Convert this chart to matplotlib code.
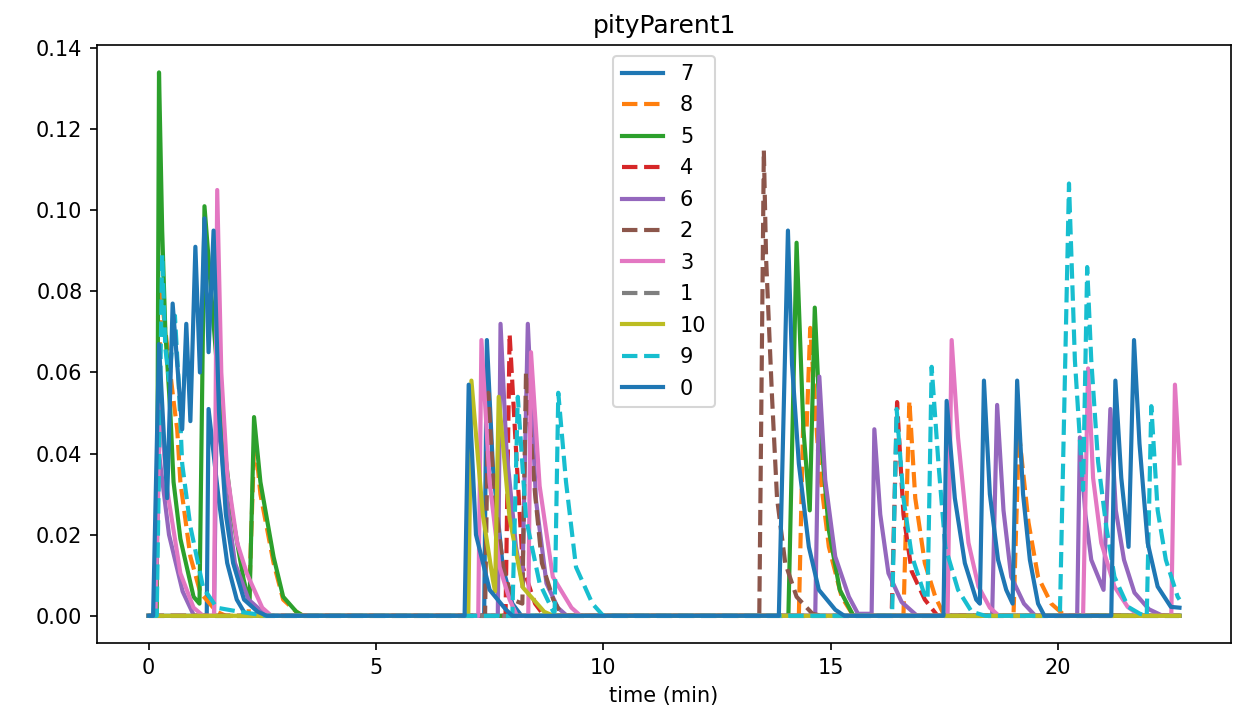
import matplotlib
matplotlib.use('Agg')
from matplotlib import pyplot as plt

# series values: (time in min, value) knots
T_END = 22.67

s7 = [(0, 0), (1.28, 0), (1.32, 0.051), (1.54, 0.029), (1.73, 0.013), (1.94, 0.004), (2.15, 0),
      (7.38, 0), (7.44, 0.068), (7.57, 0.037), (7.79, 0.012), (8.0, 0.003), (8.2, 0), (T_END, 0)]

s8 = [(0, 0), (0.15, 0), (0.27, 0.08), (0.55, 0.053), (0.63, 0.046), (0.70, 0.033), (0.92, 0.0146),
      (1.14, 0.0057), (1.5, 0.001), (1.7, 0),
      (2.2, 0), (2.33, 0.045), (2.46, 0.03), (2.75, 0.013), (2.96, 0.004), (3.25, 0.001), (3.4, 0),
      (14.3, 0), (14.4, 0.05), (14.47, 0.046), (14.55, 0.071), (14.74, 0.0375), (14.96, 0.017),
      (15.24, 0.0047), (15.5, 0),
      (16.6, 0), (16.73, 0.053), (16.86, 0.029), (17.07, 0.013), (17.3, 0.0047), (17.5, 0),
      (19.02, 0), (19.14, 0.045), (19.35, 0.023), (19.56, 0.0096), (19.85, 0.003), (20.15, 0),
      (T_END, 0)]

s5 = [(0, 0), (0.18, 0), (0.23, 0.134), (0.30, 0.095), (0.37, 0.07), (0.48, 0.05), (0.55, 0.033),
      (0.70, 0.019), (0.99, 0.0047), (1.12, 0.003), (1.23, 0.101), (1.5, 0.062), (1.62, 0.046),
      (1.84, 0.025), (2.09, 0.009), (2.22, 0.003), (2.32, 0.049), (2.46, 0.033), (2.75, 0.0145),
      (2.96, 0.0047), (3.25, 0.001), (3.4, 0),
      (14.07, 0), (14.25, 0.092), (14.4, 0.046), (14.54, 0.026), (14.65, 0.076), (14.77, 0.046),
      (14.96, 0.021), (15.2, 0.0064), (15.5, 0), (T_END, 0)]

s4 = [(0, 0), (7.85, 0), (7.94, 0.0695), (8.08, 0.041), (8.23, 0.012), (8.5, 0.003), (8.7, 0),
      (16.34, 0), (16.46, 0.0527), (16.6, 0.025), (16.78, 0.011), (17.07, 0.004), (17.35, 0),
      (T_END, 0)]

s6 = [(0, 0), (0.15, 0), (0.23, 0.04), (0.45, 0.02), (0.75, 0.006), (1.0, 0),
      (1.44, 0), (1.5, 0.052), (1.7, 0.03), (1.9, 0.013), (2.2, 0.004), (2.5, 0.001), (2.7, 0),
      (7.68, 0), (7.74, 0.072), (7.87, 0.041), (8.08, 0.017), (8.22, 0.008), (8.34, 0.072),
      (8.52, 0.0285), (8.75, 0.008), (9.0, 0.002), (9.2, 0),
      (14.66, 0), (14.75, 0.059), (14.88, 0.0335), (15.1, 0.0146), (15.4, 0.0047), (15.6, 0.0005),
      (15.9, 0.0005), (15.96, 0.046), (16.09, 0.025), (16.27, 0.0105), (16.56, 0.0034), (16.9, 0),
      (18.55, 0), (18.66, 0.052), (18.8, 0.026), (18.97, 0.0096), (19.25, 0.003), (19.5, 0),
      (20.42, 0), (20.48, 0.044), (20.6, 0.025), (20.73, 0.0138), (21.0, 0.0064), (21.15, 0.051),
      (21.27, 0.026), (21.45, 0.0138), (21.68, 0.0057), (22.0, 0.0016), (22.3, 0), (T_END, 0)]

s2 = [(0, 0), (7.4, 0), (7.47, 0.055), (7.6, 0.03), (7.8, 0.012), (8.0, 0.004), (8.22, 0.003),
      (8.3, 0.06), (8.5, 0.03), (8.65, 0.013), (8.9, 0.004), (9.1, 0),
      (13.43, 0), (13.53, 0.1148), (13.58, 0.088), (13.71, 0.054), (13.82, 0.029), (14.0, 0.013),
      (14.25, 0.0047), (14.6, 0.0005), (14.8, 0), (T_END, 0)]

s3 = [(0, 0), (0.15, 0), (0.25, 0.052), (0.41, 0.031), (0.70, 0.0105), (0.99, 0.002), (1.2, 0),
      (1.44, 0), (1.51, 0.105), (1.6, 0.06), (1.73, 0.035), (1.95, 0.018), (2.16, 0.0105),
      (2.5, 0.002), (2.7, 0),
      (7.25, 0), (7.32, 0.068), (7.5, 0.033), (7.72, 0.012), (7.94, 0.004), (8.1, 0),
      (8.35, 0), (8.41, 0.065), (8.6, 0.032), (8.89, 0.0096), (9.3, 0.002), (9.5, 0),
      (17.57, 0), (17.66, 0.068), (17.8, 0.044), (18.03, 0.018), (18.25, 0.0072), (18.5, 0.002),
      (18.7, 0),
      (20.55, 0), (20.66, 0.061), (20.77, 0.034), (20.95, 0.018), (21.24, 0.0072), (21.53, 0.0022),
      (21.8, 0), (22.49, 0), (22.57, 0.057), (T_END, 0.0376)]

s1 = [(0, 0), (T_END, 0)]

s10 = [(0, 0), (7.03, 0), (7.1, 0.058), (7.35, 0.025), (7.57, 0.009), (7.62, 0.006), (7.7, 0.054),
       (7.94, 0.024), (8.23, 0.007), (8.7, 0.001), (8.9, 0), (T_END, 0)]

s9 = [(0, 0), (0.18, 0), (0.3, 0.089), (0.37, 0.066), (0.45, 0.058), (0.58, 0.074), (0.66, 0.058),
      (0.74, 0.0375), (0.92, 0.022), (1.2, 0.007), (1.5, 0.002), (2.0, 0.001), (2.6, 0),
      (8.0, 0), (8.12, 0.054), (8.3, 0.024), (8.6, 0.008), (8.9, 0.001),
      (8.93, 0.001), (9.01, 0.055), (9.18, 0.033), (9.4, 0.012), (9.76, 0.003), (10.0, 0),
      (16.35, 0), (16.45, 0.051), (16.6, 0.029), (16.78, 0.015), (17.05, 0.0056), (17.13, 0.004),
      (17.22, 0.0614), (17.37, 0.0375), (17.52, 0.017), (17.8, 0.0064), (18.1, 0.001), (18.4, 0),
      (20.04, 0), (20.24, 0.1066), (20.37, 0.063), (20.55, 0.031), (20.64, 0.086), (20.73, 0.063),
      (20.88, 0.038), (21.06, 0.022), (21.24, 0.0096), (21.54, 0.0022), (21.8, 0.0005), (21.95, 0),
      (22.05, 0.0517), (22.19, 0.026), (22.37, 0.0138), (22.63, 0.0047), (T_END, 0.004)]

s0 = [(0, 0), (0.1, 0), (0.23, 0.067), (0.41, 0.029), (0.53, 0.077), (0.74, 0.046), (0.83, 0.072),
      (0.92, 0.048), (1.03, 0.091), (1.13, 0.060), (1.23, 0.098), (1.32, 0.065), (1.43, 0.095),
      (1.55, 0.05), (1.7, 0.025), (1.86, 0.013), (2.1, 0.004), (2.4, 0.001), (2.6, 0),
      (6.95, 0), (7.04, 0.057), (7.2, 0.020), (7.5, 0.0064), (7.86, 0.0015), (8.0, 0),
      (13.86, 0), (14.06, 0.095), (14.15, 0.062), (14.3, 0.0375), (14.52, 0.017), (14.74, 0.0064),
      (15.1, 0.0015), (15.3, 0),
      (17.48, 0), (17.55, 0.053), (17.73, 0.029), (17.95, 0.013), (18.2, 0.004), (18.28, 0.003),
      (18.37, 0.058), (18.5, 0.030), (18.68, 0.0138), (18.86, 0.0064), (19.0, 0.003), (19.1, 0.058),
      (19.23, 0.030), (19.38, 0.0138), (19.56, 0.003), (19.7, 0),
      (21.17, 0), (21.26, 0.058), (21.39, 0.034), (21.55, 0.017), (21.67, 0.068), (21.79, 0.0425),
      (21.97, 0.018), (22.19, 0.0072), (22.48, 0.0022), (T_END, 0.002)]

labels = ['7', '8', '5', '4', '6', '2', '3', '1', '10', '9', '0']
series = [s7, s8, s5, s4, s6, s2, s3, s1, s10, s9, s0]

fig = plt.figure(figsize=(1234 / 150, 718 / 150), dpi=150)
ax = fig.add_subplot(1, 1, 1)
fig.subplots_adjust(left=0.0786, right=0.9976, bottom=0.1045, top=0.937)

for i, (lab, s) in enumerate(zip(labels, series)):
    t, v = zip(*s)
    ls = '-' if i % 2 == 0 else '--'
    ax.plot(t, v, ls, color='C%d' % (i % 10), lw=2, label=lab)

ax.set_title('pityParent1')
ax.set_xlabel('time (min)')
ax.legend(loc='upper center', labelspacing=0.55)

fig.savefig('out.png', dpi=150)
